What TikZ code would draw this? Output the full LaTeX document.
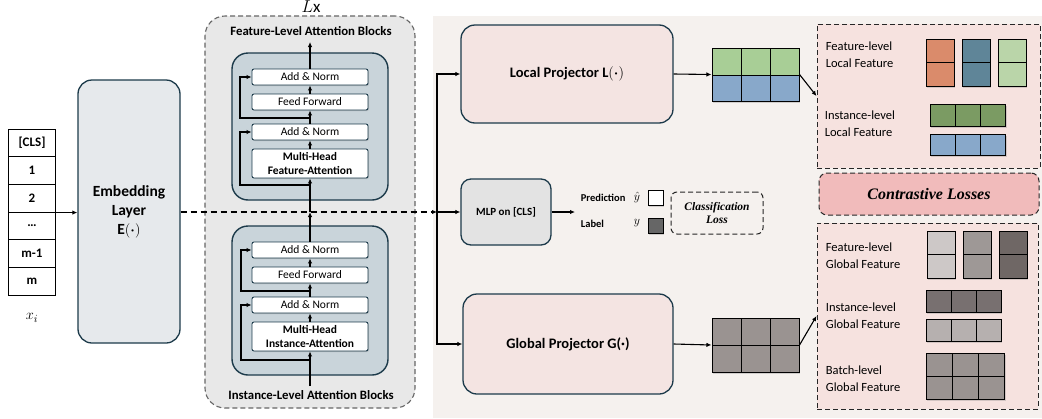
\documentclass[tikz,border=0pt]{standalone}
\usepackage{fontspec}
\setmainfont{Carlito}
\newfontfamily\lossfont{Liberation Serif}
\usepackage{amsmath}
\usepackage{xcolor}
\usetikzlibrary{arrows.meta,shadows}

\definecolor{edgeblue}{HTML}{1C3A4A}
\definecolor{embfill}{HTML}{E6E9EC}
\definecolor{blockfill}{HTML}{C9D4DA}
\definecolor{outerfill}{HTML}{E8E8E8}
\definecolor{panelfill}{HTML}{F5F1EE}
\definecolor{projfill}{HTML}{F4E4E2}
\definecolor{featfill}{HTML}{F6E2DF}
\definecolor{lossfill}{HTML}{F1BBBB}
\definecolor{mlpfill}{HTML}{E3E3E3}
\definecolor{lgreen}{HTML}{A8CE96}
\definecolor{lblue}{HTML}{88A8CA}
\definecolor{orangef}{HTML}{DA8B6B}
\definecolor{tealf}{HTML}{5F8598}
\definecolor{palegreen}{HTML}{BAD5A9}
\definecolor{darkgreen}{HTML}{7B9B63}
\definecolor{grayA}{HTML}{CDC8C7}
\definecolor{grayB}{HTML}{9E9896}
\definecolor{grayC}{HTML}{6F6765}
\definecolor{grayD}{HTML}{787070}
\definecolor{grayE}{HTML}{B6B0AF}
\definecolor{grayF}{HTML}{9A9391}

\begin{document}
\begin{tikzpicture}[
  x=1pt, y=-1pt, line width=1.1pt, >={Latex[length=5pt,width=4.5pt]},
  tok/.style={draw,line width=0.9pt,minimum width=47pt,minimum height=27.7pt,inner sep=0pt,font=\fontsize{13}{15}\selectfont\bfseries},
  bigbox/.style={draw=edgeblue,line width=1.3pt,rounded corners=14pt,inner sep=0pt,align=center},
  block/.style={draw=edgeblue,fill=blockfill,line width=1.4pt,rounded corners=16pt,inner sep=0pt},
  layer/.style={draw=edgeblue,fill=white,line width=0.9pt,rounded corners=2pt,minimum width=116pt,minimum height=16pt,inner sep=0pt,align=center,font=\fontsize{11.5}{13}\selectfont,drop shadow={shadow xshift=1pt,shadow yshift=-1pt,opacity=.3}},
  outerbox/.style={draw=gray!80!black,fill=outerfill,dashed,dash pattern=on 5pt off 3pt,line width=1.1pt,rounded corners=20pt,inner sep=0pt},
  dashbox/.style={draw=black!85,dash pattern=on 5pt off 3pt,line width=1pt,inner sep=0pt},
  cellbox/.style={draw,line width=1pt,drop shadow={shadow xshift=1pt,shadow yshift=-1.5pt,opacity=.3}},
  lbl/.style={anchor=west,align=left,font=\fontsize{12.5}{17}\selectfont},
  title/.style={font=\fontsize{12.8}{14}\selectfont\bfseries}
]
  \useasboundingbox (0,0) rectangle (1042,418);
  \fill[panelfill] (433,16) rectangle (1042,418);

  % input tokens
  \foreach \t [count=\i] in {{[CLS]},1,2,…,m-1,m}
    \node[tok] (c\i) at (32,{129+27.7*(\i-0.5)}) {\t};
  \node[font=\fontsize{15}{16}\selectfont] (xi) at (32,318) {$x_i$};

  \node[bigbox,fill=embfill,minimum width=102pt,minimum height=263pt,font=\fontsize{15.5}{19}\selectfont\bfseries] (emb) at (129,211.5) {Embedding\\Layer\\$\mathbf{E}(\boldsymbol{\cdot})$};

  % attention blocks
  \node[outerbox,minimum width=210pt,minimum height=392pt] (attn) at (310,212) {};
  \node[font=\fontsize{17}{18}\selectfont] (lx) at (311,7) {$L\mathrm{x}$};
  \node[title] (ftitle) at (311,31) {Feature-Level Attention Blocks};
  \node[title] (ititle) at (311,395) {Instance-Level Attention Blocks};

  \node[block,minimum width=156pt,minimum height=147pt] (fblk) at (310,126.5) {};
  \node[layer] (an1) at (310,77) {Add \& Norm};
  \node[layer] (ff1) at (310,102) {Feed Forward};
  \node[layer] (an2) at (310,132) {Add \& Norm};
  \node[layer,minimum height=29pt,font=\fontsize{11.5}{14}\selectfont\bfseries] (mha1) at (310,163.5) {Multi-Head\\Feature-Attention};

  \node[block,minimum width=156pt,minimum height=149pt] (iblk) at (310,300.5) {};
  \node[layer] (an3) at (310,250) {Add \& Norm};
  \node[layer] (ff2) at (310,275) {Feed Forward};
  \node[layer] (an4) at (310,305) {Add \& Norm};
  \node[layer,minimum height=29pt,font=\fontsize{11.5}{14}\selectfont\bfseries] (mha2) at (310,336.5) {Multi-Head\\Instance-Attention};

  \coordinate (ftop) at (310,42);
  \coordinate (mid) at (310,212);
  \coordinate (iin) at (310,386);
  \coordinate (r1) at (310,185);
  \coordinate (r2) at (310,118);
  \coordinate (r3) at (310,360);
  \coordinate (r4) at (310,291);

  \draw[->] (iin) -- (mha2.south);
  \draw[->] (mha2) -- (an4);
  \draw[->] (an4) -- (ff2);
  \draw[->] (ff2) -- (an3);
  \draw[->] (an3) -- (mid);
  \draw[->] (mid) -- (mha1.south);
  \draw[->] (mha1) -- (an2);
  \draw[->] (an2) -- (ff1);
  \draw[->] (ff1) -- (an1);
  \draw[->] (an1) -- (ftop);
  \draw[->] (r1) -- ++(-70,0) |- (an2.west);
  \draw[->] (r2) -- ++(-70,0) |- (an1.west);
  \draw[->] (r3) -- ++(-69,0) |- (an4.west);
  \draw[->] (r4) -- ++(-69,0) |- (an3.west);

  % main flow
  \coordinate (split) at (437,212);
  \draw[->] (c3.south east) -- (c3.south east -| emb.west);
  \draw[->,dashed,dash pattern=on 6pt off 4pt] (emb.east |- split) -- (split);

  % projectors
  \node[bigbox,fill=projfill,minimum width=212pt,minimum height=98pt,font=\fontsize{14.5}{16}\selectfont\bfseries] (loc) at (567,74) {Local Projector $\mathbf{L}(\boldsymbol{\cdot})$};
  \node[bigbox,fill=projfill,minimum width=210pt,minimum height=100pt,font=\fontsize{14.5}{16}\selectfont\bfseries] (glob) at (568,344) {Global Projector G(·)};
  \node[bigbox,fill=mlpfill,rounded corners=10pt,minimum width=90pt,minimum height=66pt,font=\fontsize{11}{12}\selectfont\bfseries] (mlp) at (506,212) {MLP on [CLS]};

  \draw[->] (split) |- (loc.west);
  \draw[->] (split) |- (glob.west);
  \draw[->] (split) -- (mlp.west);

  % classification
  \coordinate (mlpout) at (575,212);
  \draw[->] (mlp.east) -- (mlpout);
  \node[anchor=west,font=\fontsize{10.5}{11}\selectfont\bfseries] (pred) at (577,198) {Prediction};
  \node[font=\fontsize{12}{13}\selectfont] (yhat) at (637,197) {$\hat{y}$};
  \node[anchor=west,font=\fontsize{10.5}{11}\selectfont\bfseries] (lab) at (577,224) {Label};
  \node[font=\fontsize{12}{13}\selectfont] (ylab) at (637,223) {$y$};
  \node[cellbox,fill=white,line width=0.8pt,minimum width=15pt,minimum height=15pt,inner sep=0pt] (psq) at (655.5,197.5) {};
  \node[cellbox,fill=black!60,line width=0.8pt,minimum width=15pt,minimum height=15pt,inner sep=0pt] (lsq) at (655.5,225.5) {};
  \node[dashbox,rounded corners=6pt,minimum width=92pt,minimum height=42pt,align=center,font=\fontsize{11.5}{13}\selectfont\lossfont\bfseries\itshape] (closs) at (717,213) {Classification\\Loss};

  % projected features
  \node[minimum width=87pt,minimum height=53pt,inner sep=0pt] (lgrid) at (755.5,74.5) {};
  \foreach \i in {0,1,2} {
    \draw[cellbox,fill=lgreen] (712+29*\i,48) rectangle ++(29,27);
    \draw[cellbox,fill=lblue] (712+29*\i,75) rectangle ++(29,26);
  }
  \node[minimum width=87pt,minimum height=54pt,inner sep=0pt] (ggrid) at (755.5,345) {};
  \foreach \i in {0,1,2} {
    \draw[cellbox,fill=grayF] (712+29*\i,318) rectangle ++(29,27);
    \draw[cellbox,fill=grayF] (712+29*\i,345) rectangle ++(29,27);
  }
  \draw[->] (loc.east) -- (lgrid.west);
  \draw[->] (glob.east) -- (ggrid.west);

  % local features
  \node[dashbox,fill=featfill,minimum width=223pt,minimum height=144pt] (lfeat) at (928.5,96) {};
  \node[lbl] (lf1) at (822,55) {Feature-level\\Local Feature};
  \node[lbl] (lf2) at (821,124) {Instance-level\\Local Feature};
  \foreach \x/\c in {926/orangef,962/tealf,998/palegreen} {
    \draw[cellbox,fill=\c] (\x,39) rectangle ++(28,23.5);
    \draw[cellbox,fill=\c] (\x,62.5) rectangle ++(28,23.5);
  }
  \foreach \i in {0,1,2} {
    \draw[cellbox,fill=darkgreen] (930+25.3*\i,104) rectangle ++(25.3,22);
    \draw[cellbox,fill=lblue] (930+25.3*\i,134) rectangle ++(25.3,21);
  }
  \draw[->] (lgrid.east) -- (lfeat.west);

  % contrastive
  \node[dashbox,fill=lossfill,rounded corners=8pt,minimum width=220pt,minimum height=42pt,font=\fontsize{16}{18}\selectfont\lossfont\bfseries\itshape] (closses) at (929,194) {Contrastive Losses};

  % global features
  \node[dashbox,fill=featfill,minimum width=221pt,minimum height=186pt] (gfeat) at (927.5,316) {};
  \node[lbl] (gf1) at (822,256) {Feature-level\\Global Feature};
  \node[lbl] (gf2) at (822,316) {Instance-level\\Global Feature};
  \node[lbl] (gf3) at (822,379) {Batch-level\\Global Feature};
  \foreach \x/\c in {927/grayA,963/grayB,999/grayC} {
    \draw[cellbox,fill=\c] (\x,231) rectangle ++(28,23.5);
    \draw[cellbox,fill=\c] (\x,254.5) rectangle ++(28,23.5);
  }
  \foreach \i in {0,1,2} {
    \draw[cellbox,fill=grayD] (926+25*\i,290) rectangle ++(25,22);
    \draw[cellbox,fill=grayE] (926+25*\i,319) rectangle ++(25,22);
    \draw[cellbox,fill=grayF] (926+26.3*\i,353) rectangle ++(26.3,23);
    \draw[cellbox,fill=grayF] (926+26.3*\i,376) rectangle ++(26.3,23);
  }
  \draw[->] (ggrid.east) -- (gfeat.west);
\end{tikzpicture}
\end{document}
